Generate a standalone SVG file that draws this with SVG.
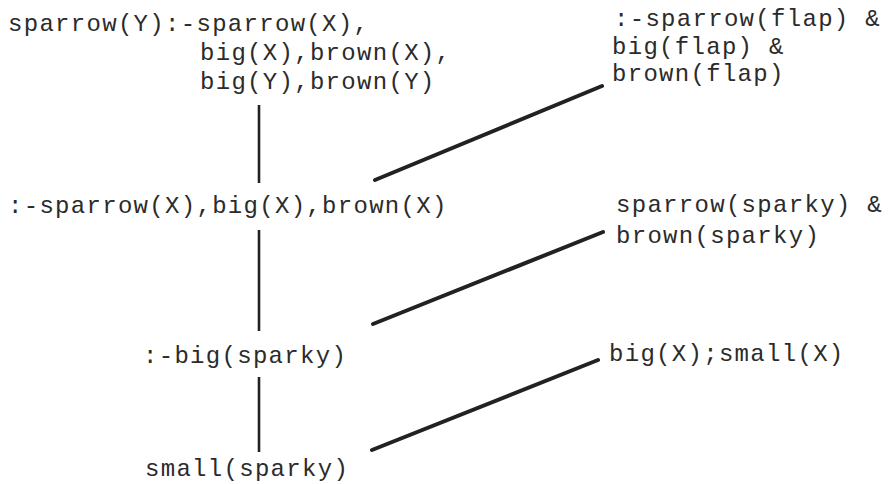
<svg xmlns="http://www.w3.org/2000/svg" width="893" height="484" viewBox="0 0 893 484">
<style>
text{font-family:"Liberation Mono","Courier New",monospace;font-size:24px;letter-spacing:1.3px;fill:#2b2b2b}
.v{stroke:#222;stroke-width:2.6;fill:none}
.d{stroke:#222;stroke-width:4;stroke-linecap:round;fill:none}
</style>
<rect width="893" height="484" fill="#fff"/>
<g id="connectors">
<line class="v" x1="259" y1="105" x2="259" y2="183"/>
<line class="v" x1="259" y1="230" x2="259" y2="331"/>
<line class="v" x1="259" y1="377" x2="259" y2="452"/>
<line class="d" x1="375" y1="180" x2="602" y2="86"/>
<line class="d" x1="373" y1="324" x2="603" y2="232"/>
<line class="d" x1="372" y1="450" x2="598" y2="360"/>
</g>
<g id="n-clause">
<text x="8" y="31">sparrow(Y):-sparrow(X),</text>
<text x="200" y="60">big(X),brown(X),</text>
<text x="200" y="89">big(Y),brown(Y)</text>
</g>
<g id="n-goal1"><text x="8" y="213">:-sparrow(X),big(X),brown(X)</text></g>
<g id="n-goal2"><text x="143" y="363">:-big(sparky)</text></g>
<g id="n-goal3"><text x="145" y="476">small(sparky)</text></g>
<g id="n-fact1">
<text x="614" y="26">:-sparrow(flap) &amp;</text>
<text x="612" y="54">big(flap) &amp;</text>
<text x="612" y="81">brown(flap)</text>
</g>
<g id="n-fact2">
<text x="616" y="212">sparrow(sparky) &amp;</text>
<text x="616" y="243">brown(sparky)</text>
</g>
<g id="n-fact3"><text x="609" y="361">big(X);small(X)</text></g>
</svg>
